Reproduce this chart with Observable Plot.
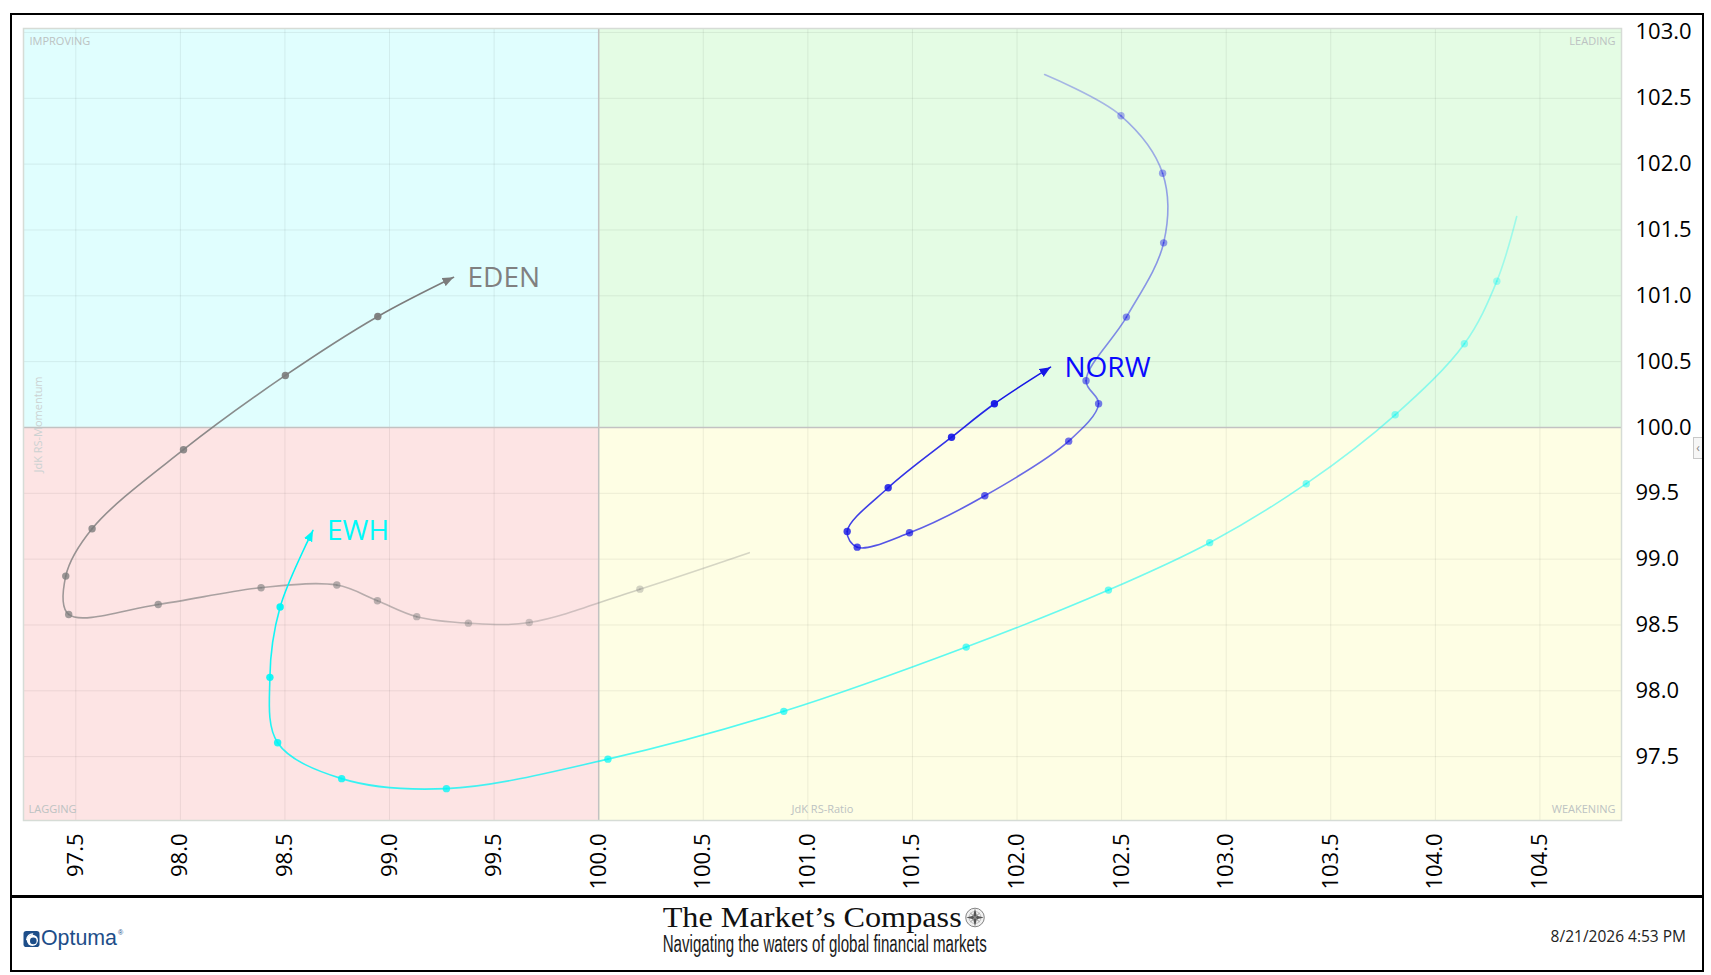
<!DOCTYPE html>
<html>
<head>
<meta charset="utf-8">
<script src="https://cdn.jsdelivr.net/npm/d3@7"></script>
<script src="https://cdn.jsdelivr.net/npm/@observablehq/plot@0.6"></script>
<style>
  html, body { margin: 0; padding: 0; background: #fff; }
  #wrap { position: relative; width: 1711px; height: 975px; overflow: hidden; background: #fff; }
  #chart { position: absolute; left: 0; top: 0; width: 1711px; }
  #chart svg text { font-family: "Open Sans", sans-serif; }
  #chart svg g[aria-label*="axis"] text { font-size: 22px; fill: #000; }
  #frame { position: absolute; left: 10px; top: 13px; width: 1694px; height: 959px; border: 2px solid #000; box-sizing: border-box; pointer-events: none; }
  #divider { position: absolute; left: 10px; top: 895px; width: 1694px; height: 3px; background: #000; }
  #tab { position: absolute; left: 1693px; top: 437px; width: 9px; height: 22px; border: 1px solid #c8c8c8; border-right: none; background: #f6f6f6; box-sizing: border-box; color: #888; font: 12px "Open Sans", sans-serif; line-height: 20px; text-align: center; }
  #deco { position: absolute; left: 0; top: 0; pointer-events: none; }
</style>
</head>
<body>
<div id="wrap">
  <div id="chart"></div>
  <svg id="deco" width="1711" height="975" xmlns="http://www.w3.org/2000/svg">
    <!-- Optuma logo -->
    <g transform="translate(23.5,931)">
      <rect x="0" y="0" width="16" height="16" rx="2.8" fill="#1d4e89"/>
      <circle cx="8.9" cy="9.3" r="5.6" fill="#fff"/>
      <circle cx="9.8" cy="9.9" r="3.3" fill="#1d4e89"/>
      <path d="M2.5,9 A6.6,6.6 0 0 1 9.8,2.4 L9.5,3.7 A5.3,5.3 0 0 0 3.8,9.1 Z" fill="#fff"/>
    </g>
    <text x="41" y="945" font-family="Liberation Sans, Arial, sans-serif" font-size="21.5" fill="#1d4e89" textLength="76" lengthAdjust="spacingAndGlyphs">Optuma</text>
    <text x="118" y="935" font-family="Liberation Sans, Arial, sans-serif" font-size="7" fill="#1d4e89">®</text>
    <!-- Title -->
    <text x="662.7" y="926.7" font-family="Liberation Serif, Times New Roman, serif" font-size="29" fill="#111" textLength="299" lengthAdjust="spacingAndGlyphs">The Market’s Compass</text>
    <g transform="translate(975,917.5)">
      <circle r="9.3" fill="#f2f2f2" stroke="#777" stroke-width="0.9"/>
      <circle r="6" fill="none" stroke="#999" stroke-width="0.6"/>
      <path d="M0,-9 L1.8,-1.8 L9,0 L1.8,1.8 L0,9 L-1.8,1.8 L-9,0 L-1.8,-1.8 Z" fill="#555"/>
      <path d="M5.5,-5.5 L1,0 L5.5,5.5 L0,1 L-5.5,5.5 L-1,0 L-5.5,-5.5 L0,-1 Z" fill="#888"/>
    </g>
    <text x="662.7" y="952.3" font-family="Liberation Sans Narrow, Arial Narrow, sans-serif" font-size="23" fill="#1a1a1a" textLength="324" lengthAdjust="spacingAndGlyphs">Navigating the waters of global financial markets</text>
    <!-- Timestamp -->
    <text x="1686" y="942.3" text-anchor="end" font-family="Open Sans, sans-serif" font-size="15.5" fill="#222">8/21/2026 4:53 PM</text>
  </svg>
  <div id="divider"></div>
  <div id="frame"></div>
  <div id="tab">‹</div>
</div>
<script>
// ---------- axes ----------
const xTicks = [97.5, 98.0, 98.5, 99.0, 99.5, 100.0, 100.5, 101.0, 101.5, 102.0, 102.5, 103.0, 103.5, 104.0, 104.5];
const yTicks = [97.5, 98.0, 98.5, 99.0, 99.5, 100.0, 100.5, 101.0, 101.5, 102.0, 102.5, 103.0];
const xDomain = [97.25, 104.89];
const yDomain = [97.015, 103.03];
const center = 100;

// ---------- quadrants ----------
const quadrantNames = ["IMPROVING", "LEADING", "LAGGING", "WEAKENING"];
const quadrantFills = ["#e0fefe", "#e4fce4", "#fde4e4", "#fefee4"];
const axisTitles = ["JdK RS-Ratio", "JdK RS-Momentum"];

// ---------- series (oldest -> latest) ----------
const tickers = ["EDEN", "NORW", "EWH"];
const lineColors = ["#7c7c7c", "#1616e6", "#00f6f6"];
const labelColors = ["#808080", "#0a0aff", "#00fafa"];

const edenRatio    = [100.720, 100.197, 99.668, 99.377, 99.130, 98.942, 98.748, 98.386, 97.894, 97.466, 97.452, 97.578, 98.015, 98.502, 98.944, 99.306];
const edenMomentum = [99.049, 98.772, 98.519, 98.514, 98.563, 98.684, 98.803, 98.783, 98.656, 98.580, 98.871, 99.231, 99.831, 100.395, 100.843, 101.141];

const norwRatio    = [102.132, 102.497, 102.696, 102.701, 102.523, 102.330, 102.390, 102.247, 101.846, 101.486, 101.236, 101.188, 101.384, 101.687, 101.892, 102.160];
const norwMomentum = [102.680, 102.367, 101.931, 101.402, 100.838, 100.355, 100.180, 99.896, 99.481, 99.200, 99.091, 99.210, 99.542, 99.926, 100.180, 100.458];

const ewhRatio     = [104.389, 104.294, 104.139, 103.808, 103.383, 102.921, 102.437, 101.757, 100.885, 100.044, 99.272, 98.771, 98.465, 98.428, 98.477, 98.634];
const ewhMomentum  = [101.602, 101.111, 100.636, 100.096, 99.573, 99.125, 98.765, 98.332, 97.844, 97.481, 97.257, 97.333, 97.606, 98.102, 98.636, 99.218];

const ratios = [edenRatio, norwRatio, ewhRatio];
const momenta = [edenMomentum, norwMomentum, ewhMomentum];

// ---------- derived tables ----------
const quadrants = quadrantNames.map((name, i) => ({
  name, fill: quadrantFills[i],
  x1: i % 2 === 0 ? xDomain[0] : center, x2: i % 2 === 0 ? center : xDomain[1],
  y1: i < 2 ? center : yDomain[0], y2: i < 2 ? yDomain[1] : center
}));

function ramp(t) { return 0.28 + 0.72 * t; }

const series = tickers.map((name, s) => {
  const xs = ratios[s], ys = momenta[s], n = xs.length;
  const segs = [], arrow = [], dots = [];
  for (let i = 0; i < n - 1; i++) {
    const idx = [Math.max(0, i - 1), i, i + 1, Math.min(n - 1, i + 2)];
    const op = ramp((i + 0.5) / (n - 1));
    const target = i === n - 2 ? arrow : segs;
    for (const k of idx) target.push({seg: name + "-" + i, x: xs[k], y: ys[k], op});
  }
  for (let k = 1; k < n - 1; k++) dots.push({x: xs[k], y: ys[k], op: ramp(k / (n - 1))});
  const head = [{name, x: xs[n - 1], y: ys[n - 1]}];
  return {name, color: lineColors[s], labelColor: labelColors[s], segs, arrow, dots, head};
});

// curve that draws only the middle (2nd) catmull-rom span of a 4-point window
function segmentCurve(context) {
  let n = 0, lx = 0, ly = 0;
  const proxy = {
    moveTo(x, y) { lx = x; ly = y; },
    lineTo(x, y) { lx = x; ly = y; },
    bezierCurveTo(a, b, c, d, x, y) {
      if (n === 1) { context.moveTo(lx, ly); context.bezierCurveTo(a, b, c, d, x, y); }
      n++; lx = x; ly = y;
    },
    closePath() {}
  };
  const inner = d3.curveCatmullRom.alpha(0.5)(proxy);
  return {
    areaStart() {}, areaEnd() {},
    lineStart() { n = 0; inner.lineStart(); },
    lineEnd() { inner.lineEnd(); },
    point(x, y) { inner.point(x, y); }
  };
}

function arrowMarker(color) {
  const ns = "http://www.w3.org/2000/svg";
  const m = document.createElementNS(ns, "marker");
  m.setAttribute("viewBox", "-11 -5 11 10");
  m.setAttribute("refX", "0");
  m.setAttribute("refY", "0");
  m.setAttribute("markerWidth", "11");
  m.setAttribute("markerHeight", "10");
  m.setAttribute("markerUnits", "userSpaceOnUse");
  m.setAttribute("orient", "auto");
  const p = document.createElementNS(ns, "path");
  p.setAttribute("d", "M-11,-4.6L0,0L-11,4.6Z");
  p.setAttribute("fill", color);
  p.setAttribute("stroke", "none");
  m.appendChild(p);
  return m;
}

function build(marker) {
  const marks = [];
  for (const q of quadrants) {
    marks.push(Plot.rect([q], {x1: "x1", x2: "x2", y1: "y1", y2: "y2", fill: q.fill}));
  }
  marks.push(Plot.ruleX(xTicks, {stroke: "#000", strokeOpacity: 0.07, strokeWidth: 1}));
  marks.push(Plot.ruleY(yTicks, {stroke: "#000", strokeOpacity: 0.07, strokeWidth: 1}));
  marks.push(Plot.ruleX([center], {stroke: "#c2c2c2", strokeWidth: 1.5}));
  marks.push(Plot.ruleY([center], {stroke: "#c2c2c2", strokeWidth: 1.5}));
  marks.push(Plot.frame({stroke: "#d6dcd6", strokeWidth: 1.5}));

  const qlab = {fontSize: 11, fill: "#bcc2c2", lineAnchor: "middle", text: d => d};
  marks.push(Plot.text([quadrantNames[0]], {...qlab, frameAnchor: "top-left", textAnchor: "start", dx: 6, dy: 12.5}));
  marks.push(Plot.text([quadrantNames[1]], {...qlab, frameAnchor: "top-right", textAnchor: "end", dx: -6, dy: 12.5}));
  marks.push(Plot.text([quadrantNames[2]], {...qlab, frameAnchor: "bottom-left", textAnchor: "start", dx: 5, dy: -11}));
  marks.push(Plot.text([quadrantNames[3]], {...qlab, frameAnchor: "bottom-right", textAnchor: "end", dx: -6, dy: -11}));
  marks.push(Plot.text([axisTitles[0]], {...qlab, frameAnchor: "bottom", textAnchor: "middle", dy: -11}));
  marks.push(Plot.text([axisTitles[1]], {...qlab, fill: "#ccd2d2", frameAnchor: "left", textAnchor: "middle", rotate: -90, dx: 15}));

  for (const S of series) {
    marks.push(Plot.line(S.segs, {x: "x", y: "y", z: "seg", stroke: S.color, strokeOpacity: "op", strokeWidth: 1.6, curve: segmentCurve}));
    marks.push(Plot.line(S.arrow, {x: "x", y: "y", z: "seg", stroke: S.color, strokeWidth: 1.6, curve: segmentCurve, markerEnd: marker}));
    marks.push(Plot.dot(S.dots, {x: "x", y: "y", r: 3.7, fill: S.color, fillOpacity: "op", stroke: "none"}));
    marks.push(Plot.text(S.head, {x: "x", y: "y", text: "name", fill: S.labelColor, fontSize: 28, textAnchor: "start", lineAnchor: "middle", dx: 14, dy: 1}));
  }

  return Plot.plot({
    width: 1711,
    height: 897,
    marginLeft: 23,
    marginRight: 90,
    marginTop: 28,
    marginBottom: 77,
    style: {fontFamily: "Open Sans, sans-serif", fontSize: "22px", background: "transparent", color: "#000", overflow: "visible"},
    x: {domain: xDomain, ticks: xTicks, tickFormat: ".1f", tickRotate: -90, tickSize: 0, tickPadding: 13, label: null},
    y: {domain: yDomain, ticks: yTicks, tickFormat: ".1f", axis: "right", tickSize: 0, tickPadding: 14, label: null},
    opacity: {type: "linear", domain: [0, 1], range: [0, 1]},
    marks
  });
}

let chart;
try { chart = build(arrowMarker); } catch (e) { console.error(e); chart = build("arrow"); }
document.getElementById("chart").appendChild(chart);
</script>
</body>
</html>
